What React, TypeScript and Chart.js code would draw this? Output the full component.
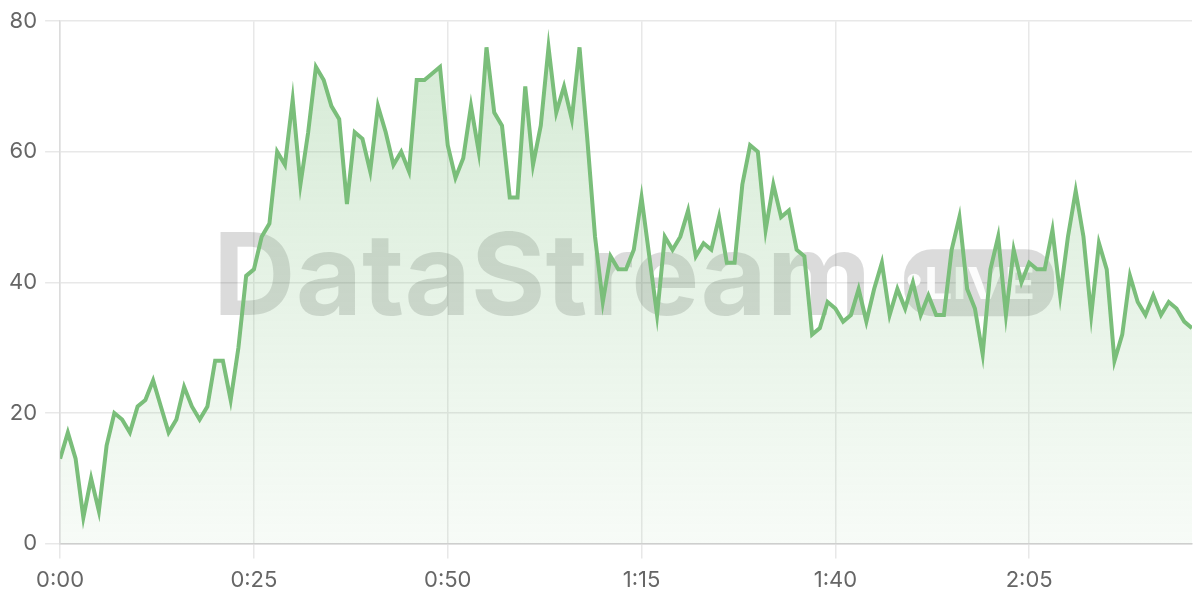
import React, { useEffect, useRef } from "react";
import { Chart, registerables } from "chart.js";

Chart.register(...registerables);

// seconds since start
const seconds: number[] = Array.from({ length: 147 }, (_, i) => i);

const values: number[] = [
  13, 17, 13, 4, 10, 5, 15, 20, 19, 17,
  21, 22, 25, 21, 17, 19, 24, 21, 19, 21,
  28, 28, 22, 30, 41, 42, 47, 49, 60, 58,
  68, 55, 63, 73, 71, 67, 65, 52, 63, 62,
  57, 67, 63, 58, 60, 57, 71, 71, 72, 73,
  61, 56, 59, 67, 60, 76, 66, 64, 53, 53,
  70, 58, 64, 76, 66, 70, 65, 76, 62, 47,
  37, 44, 42, 42, 45, 53, 44, 35, 47, 45,
  47, 51, 44, 46, 45, 50, 43, 43, 55, 61,
  60, 48, 55, 50, 51, 45, 44, 32, 33, 37,
  36, 34, 35, 39, 34, 39, 43, 35, 39, 36,
  40, 35, 38, 35, 35, 45, 50, 39, 36, 29,
  42, 47, 35, 45, 40, 43, 42, 42, 48, 38,
  47, 54, 47, 35, 46, 42, 28, 32, 41, 37,
  35, 38, 35, 37, 36, 34, 33,
];

const yTicks: number[] = [0, 20, 40, 60, 80];
const xTickStep = 25;
const watermarkText = "DataStream";
const liveText = "LIVE";

function fmtTime(s: number): string {
  const m = Math.floor(s / 60);
  const r = Math.round(s % 60);
  return `${m}:${r < 10 ? "0" : ""}${r}`;
}

const watermarkPlugin = {
  id: "watermark",
  beforeDatasetsDraw(chart: any) {
    const { ctx, chartArea } = chart;
    const x0 = chartArea.left + 153;
    const base = chartArea.top + 294;
    ctx.save();
    ctx.fillStyle = "rgba(0,0,0,0.14)";
    ctx.font = "bold 114px Inter, sans-serif";
    ctx.textBaseline = "alphabetic";
    ctx.textAlign = "left";
    const w = ctx.measureText(watermarkText).width;
    const target = 658;
    ctx.save();
    ctx.translate(x0, base);
    ctx.scale(target / w, 1);
    ctx.fillText(watermarkText, 0, 0);
    ctx.restore();
    // pill
    const px = chartArea.left + 844;
    const py = chartArea.top + 228;
    const pw = 150;
    const ph = 67;
    ctx.beginPath();
    ctx.roundRect(px, py, pw, ph, 28);
    ctx.fill();
    ctx.fillStyle = "rgba(255,255,255,0.9)";
    ctx.beginPath();
    ctx.arc(px + 10, py + 31, 6.5, 0, Math.PI * 2);
    ctx.fill();
    ctx.font = "bold 44px Inter, sans-serif";
    const lw = ctx.measureText(liveText).width;
    ctx.save();
    ctx.translate(px + 20, py + 50);
    ctx.scale(111 / lw, 1);
    ctx.fillText(liveText, 0, 0);
    ctx.restore();
    ctx.restore();
  },
};

export default function App() {
  const ref = useRef<HTMLCanvasElement | null>(null);

  useEffect(() => {
    document.body.style.margin = "0";
    const canvas = ref.current;
    if (!canvas) return;
    const chart = new Chart(canvas, {
      type: "line",
      data: {
        datasets: [
          {
            data: seconds.map((s, i) => ({ x: s, y: values[i] })),
            borderColor: "rgb(122,190,122)",
            borderWidth: 4,
            pointRadius: 0,
            tension: 0,
            fill: "origin",
            backgroundColor: (c: any) => {
              const area = c.chart.chartArea;
              if (!area) return "rgba(122,190,122,0.2)";
              const g = c.chart.ctx.createLinearGradient(0, area.top, 0, area.bottom);
              g.addColorStop(0, "rgba(122,190,122,0.32)");
              g.addColorStop(1, "rgba(122,190,122,0.06)");
              return g;
            },
          },
        ],
      },
      options: {
        responsive: false,
        animation: false,
        layout: { padding: { left: 1, right: 8, top: 5, bottom: -3 } },
        plugins: { legend: { display: false }, tooltip: { enabled: false } },
        scales: {
          x: {
            type: "linear",
            min: 0,
            max: seconds[seconds.length - 1],
            grid: { color: "#e8e8e8", tickLength: 15, lineWidth: 1.5 },
            border: { color: "#cfcfcf", width: 1.5 },
            ticks: {
              stepSize: xTickStep,
              includeBounds: false,
              color: "#666",
              padding: 9,
              maxRotation: 0,
              font: { family: "Inter, sans-serif", size: 22 },
              callback: (v: any) => fmtTime(Number(v)),
            },
          },
          y: {
            min: yTicks[0],
            max: yTicks[yTicks.length - 1],
            grid: { color: "#e8e8e8", tickLength: 15, lineWidth: 1.5 },
            border: { color: "#dcdcdc", width: 1.5 },
            ticks: {
              stepSize: 20,
              color: "#666",
              padding: 8,
              font: { family: "Inter, sans-serif", size: 22 },
            },
          },
        },
      },
      plugins: [watermarkPlugin],
    });
    return () => chart.destroy();
  }, []);

  return <canvas ref={ref} width={1200} height={600} style={{ display: "block" }} />;
}
